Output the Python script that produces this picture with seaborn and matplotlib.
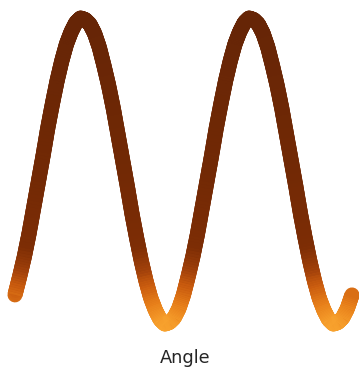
import numpy as np
import seaborn as sns
import matplotlib.pyplot as plt
from matplotlib.collections import LineCollection
from matplotlib.colors import LinearSegmentedColormap

# angle in degrees along the x axis
angle = list(range(0, 730, 10))

# value of the wave at each angle
value = [-0.81, -0.69, -0.56, -0.41, -0.24, -0.07, 0.10, 0.28, 0.44, 0.59,
         0.72, 0.83, 0.91, 0.97, 1.00, 0.99, 0.96, 0.90, 0.81, 0.69,
         0.56, 0.41, 0.24, 0.07, -0.10, -0.28, -0.44, -0.59, -0.72, -0.83,
         -0.91, -0.97, -1.00, -0.99, -0.96, -0.90,
         -0.81, -0.69, -0.56, -0.41, -0.24, -0.07, 0.10, 0.28, 0.44, 0.59,
         0.72, 0.83, 0.91, 0.97, 1.00, 0.99, 0.96, 0.90, 0.81, 0.69,
         0.56, 0.41, 0.24, 0.07, -0.10, -0.28, -0.44, -0.59, -0.72, -0.83,
         -0.91, -0.97, -1.00, -0.99, -0.96, -0.90,
         -0.81]

sns.set_theme(style="white")
plt.rcParams['font.family'] = ['DejaVu Sans']

fig = plt.figure(figsize=(3.59, 3.73), dpi=100)
ax = fig.add_axes([0, 0.067, 1, 0.933])

cmap = LinearSegmentedColormap.from_list(
    "wave", [(0, "#f8a22e"), (0.06, "#e8801a"), (0.125, "#c85a0e"),
             (0.175, "#a0400a"), (0.25, "#7d2d05"), (0.5, "#722905"),
             (1, "#662506")])

x = np.array(angle, dtype=float)
y = np.array(value)

# thin base line through seaborn, gradient on top
sns.lineplot(x=x, y=y, ax=ax, color="#7e2e05", linewidth=1)

# split every straight piece into short bits so the colour runs smoothly
t = np.linspace(0, 1, 9)
segs, cols = [], []
for i in range(len(x) - 1):
    xs = x[i] + (x[i + 1] - x[i]) * t
    ys = y[i] + (y[i + 1] - y[i]) * t
    for j in range(len(t) - 1):
        segs.append([(xs[j], ys[j]), (xs[j + 1], ys[j + 1])])
        cols.append((ys[j] + ys[j + 1]) / 2)
norm = plt.Normalize(-1, 1)

# round caps fill the joins, butt caps on top hide the bumps
for cap in ["round", "butt"]:
    lc = LineCollection(segs, cmap=cmap, norm=norm, linewidth=10.8,
                        capstyle=cap, joinstyle="round")
    lc.set_array(np.array(cols))
    ax.add_collection(lc)

ax.set_xlim(-32, 735)
ax.set_ylim(-1.157, 1.118)
ax.set_xticks([])
ax.set_yticks([])
sns.despine(ax=ax, left=True, bottom=True)
ax.set_xlabel("Angle", fontsize=12.8)
ax.xaxis.set_label_coords(0.517, -0.004)
ax.set_ylabel("")

fig.savefig("out.png", dpi=100)
